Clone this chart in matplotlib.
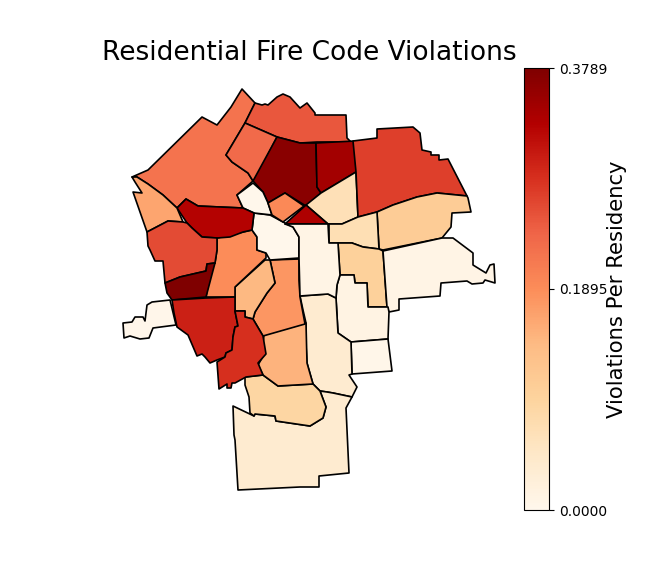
import numpy as np
from matplotlib import pyplot as plt
from matplotlib.cm import ScalarMappable
from matplotlib.collections import PolyCollection
from matplotlib.colors import Normalize

nw_big = [(132,177),(148,170),(202,117),(217,125),(231,107),(242,89),(255,103),(245,123),(226,155),(232,162),(248,173),(253,181),(237,195),(243,208),(220,207),(198,206),(186,199),(177,208),(163,195),(148,184),(137,177)]
north_top = [(255,103),(262,105),(265,104),(268,105),(277,97),(283,94),(290,97),(300,108),(307,103),(315,113),(315,115),(346,115),(347,138),(351,142),(317,142),(300,143),(277,137),(245,123)]
north_small = [(245,123),(277,137),(255,180),(253,181),(248,173),(232,162),(226,155)]
north_dark = [(277,137),(300,143),(316,143),(317,187),(321,193),(306,206),(285,193),(268,203),(263,192),(253,181)]
north_east_dark = [(316,143),(355,141),(356,172),(321,193),(317,187)]
wedge = [(321,193),(356,172),(358,217),(342,224),(328,224),(306,205)]
east_red = [(353,141),(377,138),(377,129),(413,127),(420,133),(422,150),(431,152),(431,155),(439,155),(439,160),(448,159),(467,196),(437,193),(417,197),(393,205),(377,212),(358,217),(356,172)]
east_peach = [(377,212),(393,205),(417,197),(437,193),(467,196),(468,198),(471,212),(452,213),(451,227),(442,238),(383,250),(379,249)]
east_mid = [(329,224),(342,224),(358,217),(377,212),(379,249),(363,247),(352,243),(329,243)]
east_strip = [(338,243),(352,243),(363,247),(379,249),(383,251),(387,307),(368,307),(367,283),(355,283),(354,275),(340,275)]
far_east = [(383,251),(442,238),(453,238),(473,253),(473,265),(486,273),(490,265),(494,264),(495,283),(485,280),(483,283),(472,284),(467,281),(441,283),(440,296),(399,299),(399,310),(389,312),(387,307)]
south_east = [(337,285),(340,275),(354,275),(355,283),(367,283),(368,307),(388,307),(389,312),(388,339),(351,342),(338,333),(336,298)]
south_rect = [(351,342),(388,339),(392,371),(352,374)]
central_south = [(300,296),(328,294),(336,298),(338,333),(351,342),(352,374),(349,375),(357,387),(352,397),(333,393),(327,392),(320,391),(313,384),(307,363),(306,345),(306,323),(303,310)]
bottom_big = [(233,406),(254,416),(255,414),(275,416),(276,421),(310,426),(323,418),(326,407),(320,391),(327,392),(333,393),(352,397),(346,408),(349,473),(319,476),(319,487),(300,487),(238,490),(235,440),(234,435)]
south_peach = [(245,377),(263,375),(278,386),(313,384),(320,391),(326,407),(323,418),(310,426),(276,421),(275,416),(255,414),(254,416),(250,413),(249,397),(245,385)]
south_orange = [(264,335),(306,323),(307,363),(313,384),(278,386),(263,375),(258,365),(265,353),(263,343)]
central_orange = [(270,260),(299,259),(299,280),(300,297),(305,324),(263,336),(253,319),(255,312),(267,293),(275,283)]
central_peach = [(265,260),(270,260),(275,283),(267,293),(255,312),(253,319),(245,317),(245,311),(235,311),(235,287)]
west_orange = [(217,238),(252,230),(257,237),(257,250),(266,253),(266,258),(235,287),(235,297),(206,297),(212,263),(215,263),(217,250)]
central_white = [(254,213),(270,215),(283,222),(293,227),(299,237),(299,258),(270,260),(266,253),(257,250),(257,237),(252,230)]
small_white = [(237,195),(253,183),(263,192),(268,203),(272,215),(254,213),(243,208)]
diamond = [(268,203),(285,193),(304,206),(283,222),(272,215)]
triangle = [(306,205),(328,224),(285,224)]
central_column = [(285,224),(328,224),(329,243),(338,243),(340,275),(337,285),(336,298),(328,294),(300,296),(299,258),(299,237),(293,227)]
red_band = [(186,199),(198,206),(220,207),(243,208),(254,213),(252,230),(243,232),(230,237),(217,238),(202,237),(192,228),(187,223),(177,208)]
west_peach = [(132,177),(137,177),(148,184),(163,195),(177,208),(183,222),(168,221),(147,232),(133,192),(142,193),(135,182)]
west_red = [(147,232),(168,221),(183,222),(187,223),(192,228),(202,237),(217,238),(217,250),(215,263),(207,264),(206,271),(180,277),(165,283),(163,261),(155,261),(150,250),(148,246)]
west_dark = [(165,283),(180,277),(206,271),(207,264),(215,263),(206,297),(172,300),(167,293)]
sw_red = [(172,300),(206,298),(235,297),(235,311),(238,326),(235,327),(233,337),(232,350),(226,353),(225,357),(217,360),(210,363),(205,357),(202,354),(197,356),(188,335),(177,327),(174,313)]
sw_orange = [(235,311),(245,311),(245,317),(253,319),(263,336),(266,354),(258,363),(263,375),(246,377),(235,383),(232,383),(231,388),(227,388),(227,384),(219,389),(217,362),(225,357),(226,353),(232,350),(233,337),(235,327),(238,326)]
west_tail = [(170,300),(152,302),(147,305),(145,321),(143,317),(135,317),(132,322),(123,323),(124,338),(130,336),(140,339),(149,338),(153,328),(176,325)]

outlines = [nw_big, north_top, north_small, north_dark, north_east_dark, wedge, east_red, east_peach,
            east_mid, east_strip, far_east, south_east, south_rect, central_south, bottom_big, south_peach,
            south_orange, central_orange, central_peach, west_orange, central_white, small_white, diamond,
            triangle, central_column, red_band, west_peach, west_red, west_dark, sw_red, sw_orange, west_tail]
violations = [0.22, 0.25, 0.23, 0.37, 0.345, 0.068, 0.27, 0.11,
              0.07, 0.10, 0.01, 0.012, 0.005, 0.038, 0.038, 0.09,
              0.15, 0.18, 0.145, 0.19, 0.002, 0.002, 0.195,
              0.335, 0.01, 0.33, 0.165, 0.26, 0.3789, 0.30, 0.285, 0.003]
cbar_ticks = [0.0, 0.1895, 0.3789]

fig = plt.figure(figsize=(6.69, 5.73), dpi=100)
ax = fig.add_axes([0, 0, 1, 1])
norm = Normalize(vmin=0, vmax=0.3789)
polys = PolyCollection([np.array(o) for o in outlines], array=np.array(violations), cmap='OrRd', norm=norm,
                       edgecolors='black', linewidths=1.2)
ax.add_collection(polys)
ax.set_xlim(0, 669)
ax.set_ylim(573, 0)
ax.axis('off')

fig.text(309/669, 1 - 53/573, 'Residential Fire Code Violations', fontsize=19, ha='center', va='center')

cax = fig.add_axes([524/669, 1 - 510/573, 25/669, 442/573])
cbar = fig.colorbar(ScalarMappable(norm=norm, cmap='OrRd'), cax=cax, ticks=cbar_ticks)
cbar.ax.set_yticklabels([f'{t:.4f}' for t in cbar_ticks])
cbar.ax.tick_params(labelsize=10)
cbar.set_label('Violations Per Residency', fontsize=15.2, labelpad=0)

fig.savefig('out.png', dpi=100)
